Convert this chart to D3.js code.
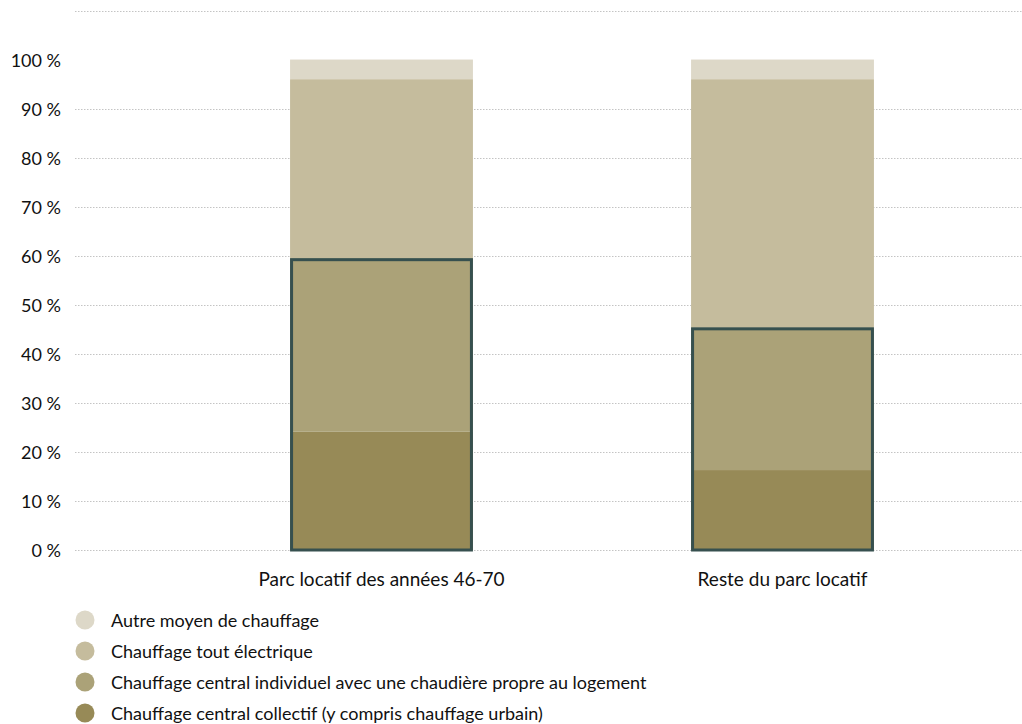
<!DOCTYPE html>
<html>
<head>
<meta charset="utf-8">
<script src="https://cdn.jsdelivr.net/npm/d3@7"></script>
<style>
  html, body { margin: 0; padding: 0; background: #fff; }
  svg { display: block; font-family: Lato, "Open Sans", sans-serif; }
</style>
</head>
<body>
<svg id="chart" width="1022" height="724"></svg>
<script>
const categories = ["Parc locatif des années 46-70", "Reste du parc locatif"];
const seriesNames = [
  "Chauffage central collectif (y compris chauffage urbain)",
  "Chauffage central individuel avec une chaudière propre au logement",
  "Chauffage tout électrique",
  "Autre moyen de chauffage"
];
const collectif = [24.1, 16.3];
const individuel = [35.4, 29.1];
const electrique = [36.5, 50.6];
const autre = [4.0, 4.0];
const yTicks = [0, 10, 20, 30, 40, 50, 60, 70, 80, 90, 100, 110];
const yTickLabels = ["0 %", "10 %", "20 %", "30 %", "40 %", "50 %", "60 %", "70 %", "80 %", "90 %", "100 %", ""];
const colors = ["#978a57", "#aba278", "#c5bc9d", "#ddd8c8"];
const borderColor = "#36504f";

const svg = d3.select("#chart");
const y = d3.scaleLinear().domain([0, 110]).range([550, 10.5]);
const x = d3.scaleBand().domain(categories).range([181, 983]).paddingInner(0.544).paddingOuter(0.272);

// gridlines
svg.append("g").selectAll("line")
  .data(yTicks.filter(t => t !== 100))
  .join("line")
  .attr("x1", 75).attr("x2", 1022)
  .attr("y1", d => Math.round(y(d)) + 0.5).attr("y2", d => Math.round(y(d)) + 0.5)
  .attr("stroke", "#c4c4c4").attr("stroke-width", 1).attr("stroke-dasharray", "1.5,1.5");

// y labels
svg.append("g").selectAll("text")
  .data(yTicks)
  .join("text")
  .attr("x", 61).attr("y", d => y(d))
  .attr("text-anchor", "end").attr("dominant-baseline", "central")
  .attr("font-size", 18).attr("fill", "#111")
  .text((d, i) => yTickLabels[i]);

// stacked data
const rows = categories.map((c, i) => ({
  cat: c, s0: collectif[i], s1: individuel[i], s2: electrique[i], s3: autre[i]
}));
const stack = d3.stack().keys(["s0", "s1", "s2", "s3"]);
const layers = stack(rows);

svg.append("g").selectAll("g")
  .data(layers)
  .join("g")
  .attr("fill", (d, i) => colors[i])
  .selectAll("rect")
  .data(d => d)
  .join("rect")
  .attr("x", d => x(d.data.cat))
  .attr("width", x.bandwidth())
  .attr("y", d => y(d[1]))
  .attr("height", d => y(d[0]) - y(d[1]));

// border around central heating part
svg.append("g").selectAll("rect")
  .data(rows)
  .join("rect")
  .attr("x", d => x(d.cat) + 1.5)
  .attr("width", x.bandwidth() - 3)
  .attr("y", d => y(d.s0 + d.s1) + 1.5)
  .attr("height", d => y(0) - y(d.s0 + d.s1) - 1.5)
  .attr("fill", "none")
  .attr("stroke", borderColor)
  .attr("stroke-width", 3);

// x labels
svg.append("g").selectAll("text")
  .data(categories)
  .join("text")
  .attr("x", d => x(d) + x.bandwidth() / 2)
  .attr("y", 586)
  .attr("text-anchor", "middle")
  .attr("font-size", 19).attr("fill", "#111")
  .text(d => d);

// legend
const legendItems = [3, 2, 1, 0];
const lg = svg.append("g").selectAll("g")
  .data(legendItems)
  .join("g")
  .attr("transform", (d, i) => `translate(0, ${620 + i * 31})`);
lg.append("circle").attr("cx", 85).attr("cy", 0).attr("r", 9.5).attr("fill", d => colors[d]);
lg.append("text").attr("x", 111).attr("y", 0).attr("dominant-baseline", "central")
  .attr("font-size", 18).attr("fill", "#111").text(d => seriesNames[d]);
</script>
</body>
</html>
